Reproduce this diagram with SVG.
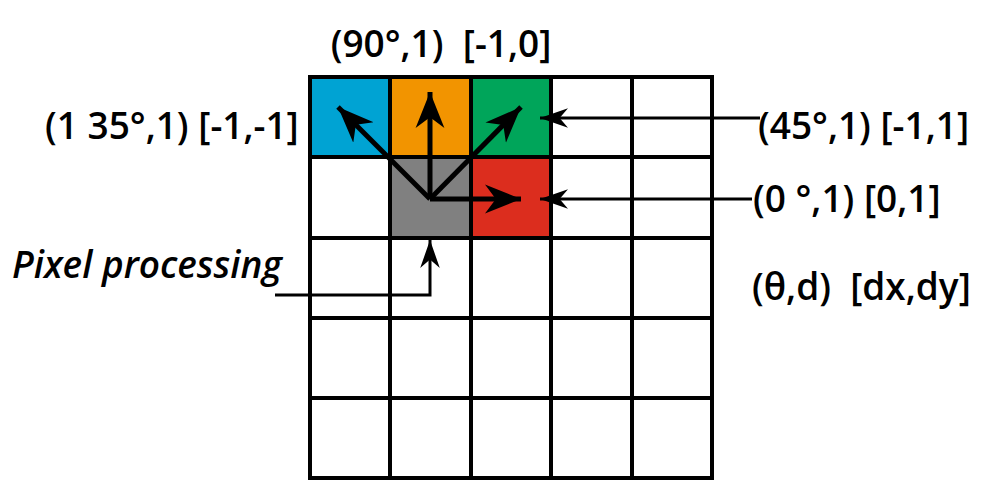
<svg xmlns="http://www.w3.org/2000/svg" width="995" height="497" viewBox="0 0 995 497">
<style>
.g{fill:none;stroke:#000;stroke-width:4}
.t{font-family:"Open Sans","Liberation Sans",sans-serif;font-weight:600;font-size:37px;fill:#000}
.c{stroke:#000;stroke-width:5;fill:none}
.l{stroke:#000;stroke-width:3;fill:none}
</style>
<defs>
<marker id="b" viewBox="0 0 10 10" refX="10" refY="5" markerWidth="36" markerHeight="36" preserveAspectRatio="none" orient="auto" markerUnits="userSpaceOnUse">
<path d="M0,1 L10,5 L0,9 L3,5 Z" fill="#000"/>
</marker>
<marker id="s" viewBox="0 0 10 10" refX="10" refY="5" markerWidth="28" markerHeight="28" preserveAspectRatio="none" orient="auto" markerUnits="userSpaceOnUse">
<path d="M0,1.5 L10,5 L0,8.5 L3,5 Z" fill="#000"/>
</marker>
</defs>
<g id="cells">
<rect x="310" y="77" width="80" height="80" fill="#00a3d3"/>
<rect x="390" y="77" width="81" height="80" fill="#f29400"/>
<rect x="471" y="77" width="80" height="80" fill="#00a55a"/>
<rect x="390" y="157" width="81" height="81" fill="#808080"/>
<rect x="471" y="157" width="80" height="81" fill="#dc2d1e"/>
</g>
<g id="grid" class="g">
<rect x="310" y="77" width="402" height="401"/>
<path d="M390,77V478M471,77V478M551,77V478M632,77V478M310,157H712M310,238H712M310,318H712M310,398H712"/>
</g>
<g id="connectors">
<path class="c" d="M430,199V92" marker-end="url(#b)"/>
<path class="c" d="M430,199L338,107" marker-end="url(#b)"/>
<path class="c" d="M430,199L521,107" marker-end="url(#b)"/>
<path class="c" d="M430,199H521" marker-end="url(#b)"/>
<path class="l" d="M760,118H540" marker-end="url(#s)"/>
<path class="l" d="M752,199H540" marker-end="url(#s)"/>
<path class="l" d="M275,295H430V240" marker-end="url(#s)"/>
</g>
<g id="labels" class="t">
<text x="441" y="57" text-anchor="middle" xml:space="preserve">(90°,1)  [-1,0]</text>
<text x="45" y="139">(1 35°,1) [-1,-1]</text>
<text x="758" y="139">(45°,1) [-1,1]</text>
<text x="753" y="212">(0 °,1) [0,1]</text>
<text x="752" y="300" xml:space="preserve">(θ,d)  [dx,dy]</text>
<text x="12" y="278" font-style="italic">Pixel processing</text>
</g>
</svg>
